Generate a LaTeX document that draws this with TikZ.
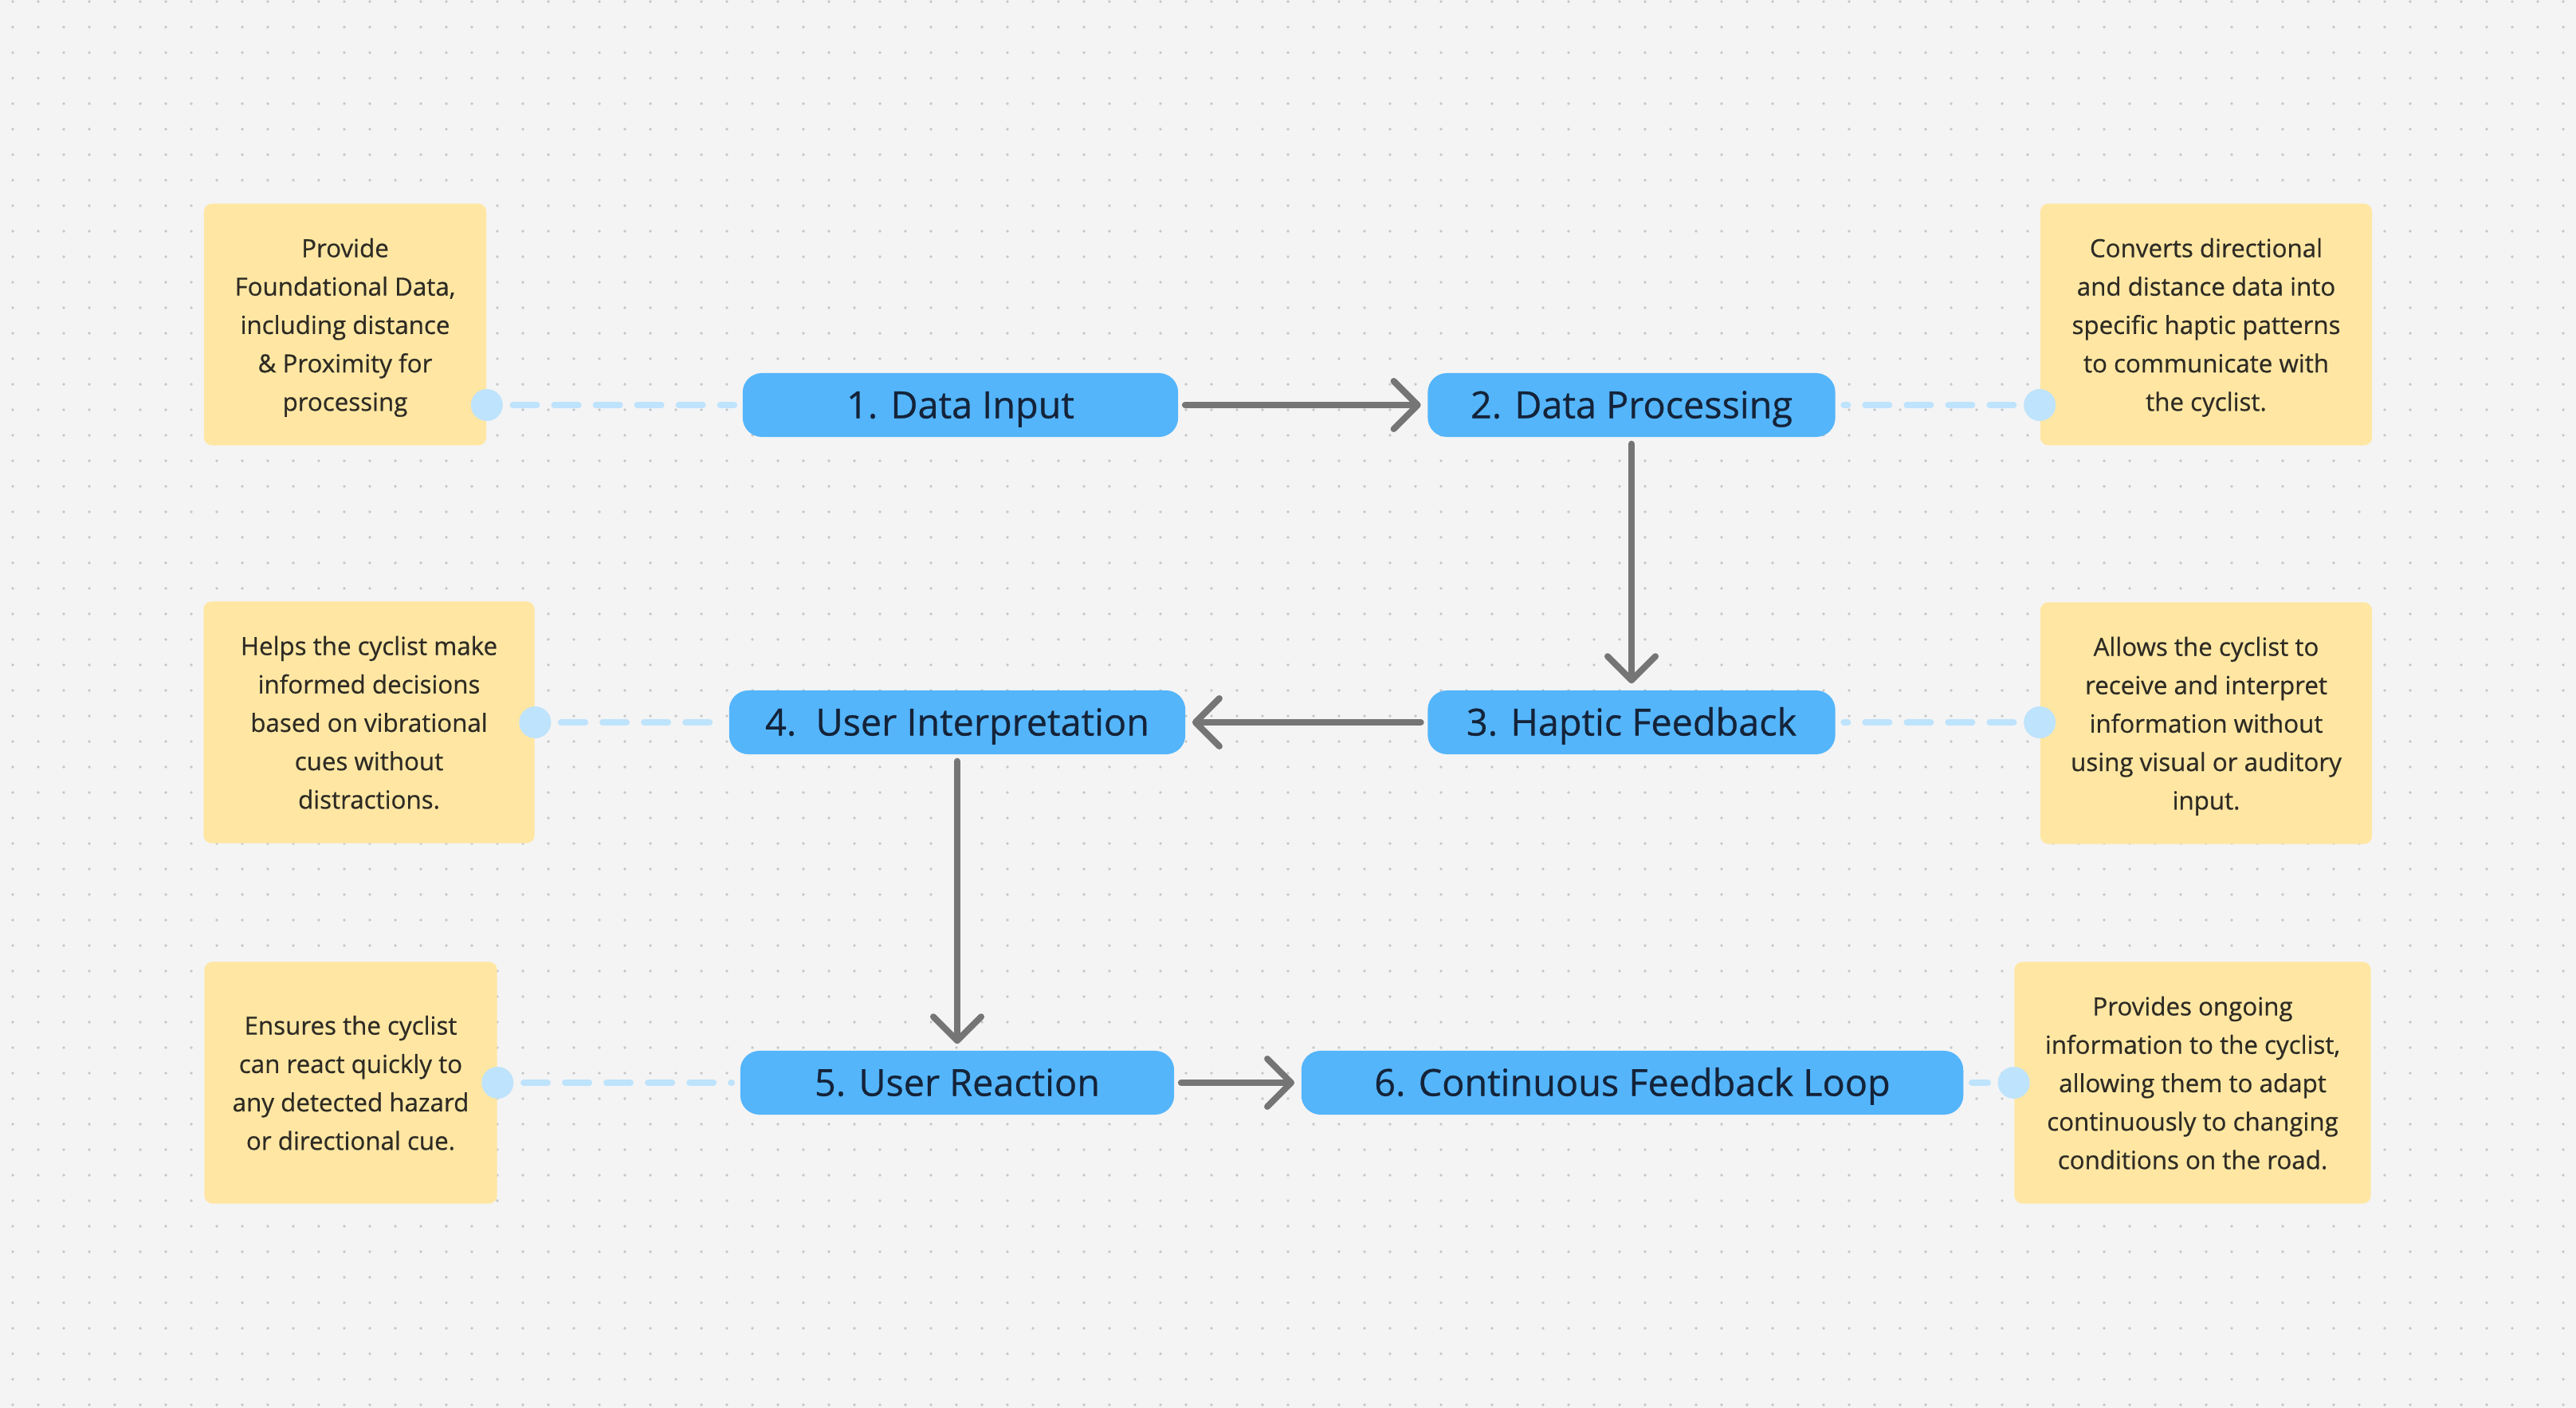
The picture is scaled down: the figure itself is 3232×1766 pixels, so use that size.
\documentclass[tikz,border=0pt]{standalone}
\usepackage{fontspec}
\setmainfont{Open Sans}[FakeBold=0.6]
\usepackage{tikz}
\usetikzlibrary{shapes,arrows.meta,positioning}

\definecolor{canvas}{HTML}{F4F4F4}
\definecolor{griddot}{HTML}{C6C6C6}
\definecolor{stagefill}{HTML}{54B5FB}
\definecolor{stageink}{HTML}{142339}
\definecolor{notefill}{HTML}{FFE7A3}
\definecolor{noteink}{HTML}{2E2B24}
\definecolor{linkblue}{HTML}{BEE3FC}
\definecolor{flowgrey}{HTML}{757575}

\tikzset{
	stage/.style={shape=rectangle, rounded corners=0.24cm, fill=stagefill, text=stageink, minimum height=0.8cm, text height=0.33cm, text depth=0cm, font=\fontsize{13.3}{16}\selectfont},
	note/.style={shape=rectangle, rounded corners=0.1cm, fill=notefill, text=noteink, align=center, minimum height=3.03cm, text depth=0cm, font=\fontsize{8.9}{13.7}\selectfont},
	joint/.style={shape=circle, fill=linkblue, minimum size=0.4cm, inner sep=0pt},
	link/.style={draw=linkblue, line width=0.08cm, line cap=round, dash pattern=on 0.3cm off 0.22cm, shorten <=0.12cm, shorten >=0.1cm},
	flow/.style={draw=flowgrey, line width=0.08cm, line cap=round, -{Straight Barb[length=0.3cm,width=0.6cm,round]}, shorten <=0.08cm, shorten >=0.08cm}
}

\begin{document}
\begin{tikzpicture}[x=0.01cm, y=-0.01cm]
	\useasboundingbox (0,0) rectangle (3232,1766);
	\fill[canvas] (0,0) rectangle (3232,1766);
	\foreach \gy in {2,34,...,1766}
		\fill[griddot] \foreach \gx in {16,48,...,3232} {(\gx,\gy) circle (0.018cm)};
	
	\node[stage, minimum width=5.46cm] (1) at (1205,508) {1. Data Input};
	\node[stage, minimum width=5.11cm] (2) at (2047,508) {2. Data Processing};
	\node[stage, minimum width=5.11cm] (3) at (2047,906) {3. Haptic Feedback};
	\node[stage, minimum width=5.72cm] (4) at (1201,906) {4.~~User Interpretation};
	\node[stage, minimum width=5.44cm] (5) at (1201,1358) {5. User Reaction};
	\node[stage, minimum width=8.30cm] (6) at (2048,1358) {6. Continuous Feedback Loop};
	
	\node[note, minimum width=3.54cm] (n1) at (433,407) {Provide\\Foundational Data,\\including distance\\\& Proximity for\\processing};
	\node[note, minimum width=4.16cm] (n2) at (2768,407) {Converts directional\\and distance data into\\specific haptic patterns\\to communicate with\\the cyclist.};
	\node[note, minimum width=4.16cm] (n3) at (2768,907) {Allows the cyclist to\\receive and interpret\\information without\\using visual or auditory\\input.};
	\node[note, minimum width=4.15cm] (n4) at (463,906) {Helps the cyclist make\\informed decisions\\based on vibrational\\cues without\\distractions.};
	\node[note, minimum width=3.67cm] (n5) at (440,1358) {Ensures the cyclist\\can react quickly to\\any detected hazard\\or directional cue.};
	\node[note, minimum width=4.47cm] (n6) at (2751,1358) {Provides ongoing\\information to the cyclist,\\allowing them to adapt\\continuously to changing\\conditions on the road.};
	
	\node[joint] (d1) at (n1.east |- 1) {};
	\node[joint] (d2) at (n2.west |- 2) {};
	\node[joint] (d3) at (n3.west |- 3) {};
	\node[joint] (d4) at (n4.east |- 4) {};
	\node[joint] (d5) at (n5.east |- 5) {};
	\node[joint] (d6) at (n6.west |- 6) {};
	
	\path [link] (d1) edge (1);
	\path [link] (d2) edge (2);
	\path [link] (d3) edge (3);
	\path [link] (d4) edge (4);
	\path [link] (d5) edge (5);
	\path [link] (d6) edge (6);
	
	\path [flow] (1) edge (2);
	\path [flow] (2) edge (3);
	\path [flow] (3) edge (4);
	\path [flow] (4) edge (5);
	\path [flow] (5) edge (6);
\end{tikzpicture}
\end{document}
